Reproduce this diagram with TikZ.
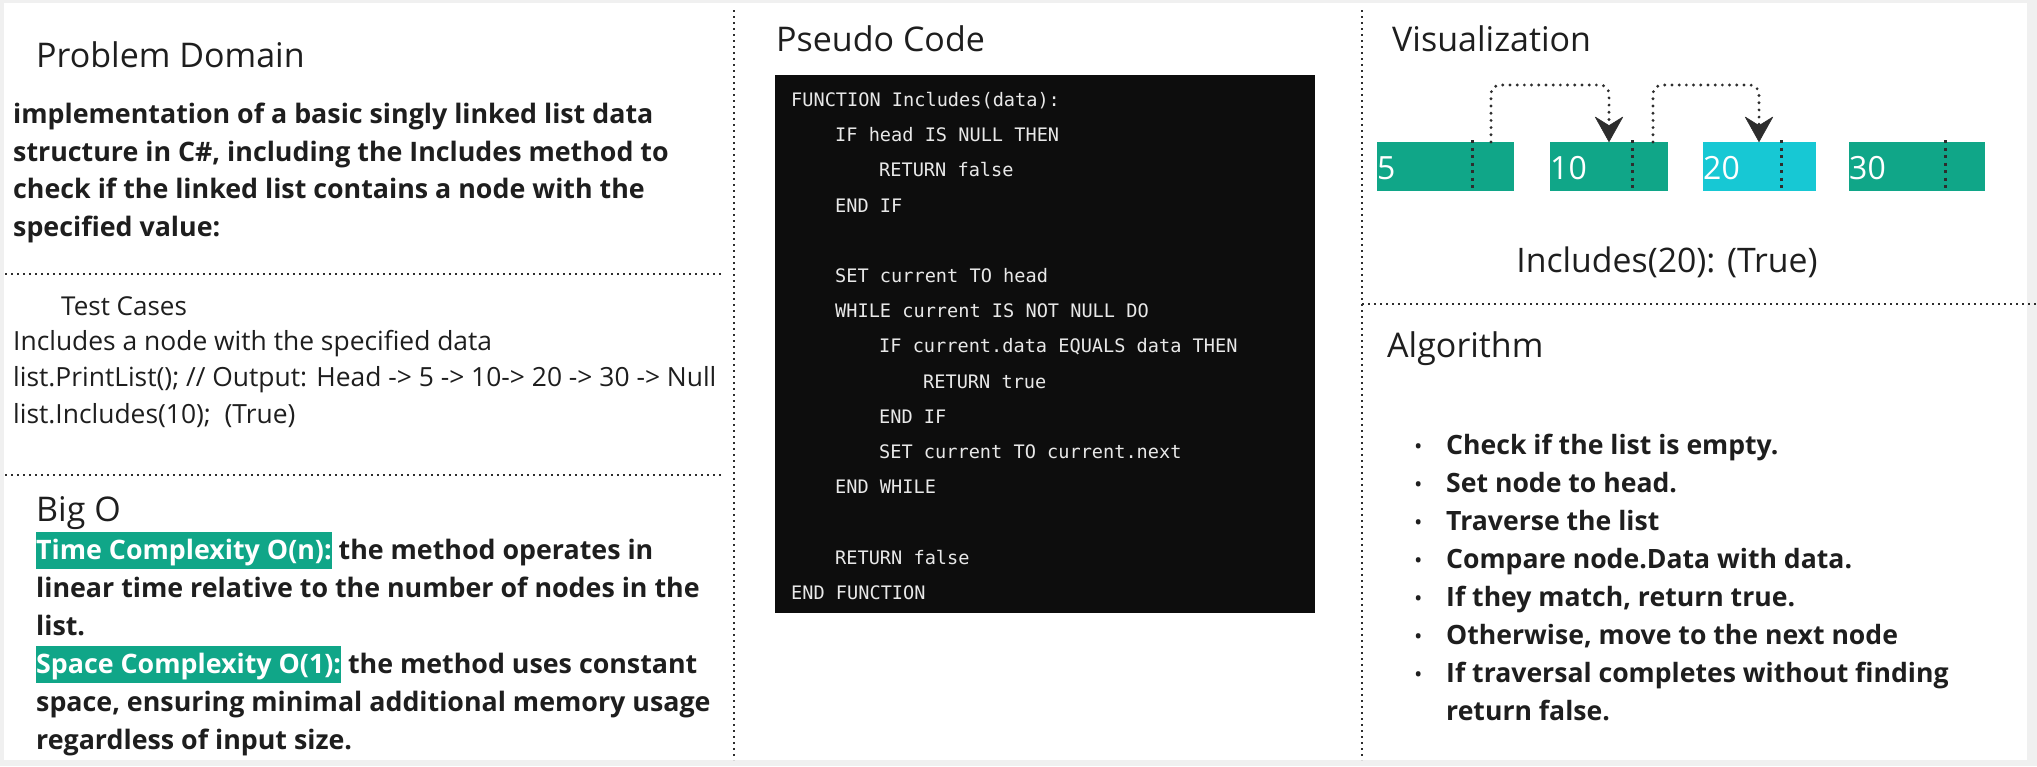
\documentclass[tikz,border=0pt]{standalone}
\usepackage{fontspec}
\setmainfont{Open Sans}
\newfontfamily\codefont{DejaVu Sans Mono}
\usetikzlibrary{arrows.meta}
\definecolor{teal1}{RGB}{16,166,136}
\definecolor{cyan1}{RGB}{23,200,212}
\definecolor{dotc}{RGB}{45,45,45}
\definecolor{frame}{RGB}{240,240,240}
\definecolor{codebg}{RGB}{13,13,13}
\definecolor{codefg}{RGB}{232,232,232}
\definecolor{txt}{RGB}{30,30,30}
\tikzset{
  x=1pt,y=-1pt,
  divline/.style={draw=dotc,line width=2.4pt,dash pattern=on 2.4pt off 3.6pt},
  title/.style={anchor=west,inner sep=0pt,text=txt,font=\fontsize{34}{40}\selectfont},
  bodybold/.style={anchor=north west,inner sep=0pt,align=left,text=txt,font=\fontsize{26.8}{37.5}\selectfont\bfseries},
  bodyreg/.style={anchor=north west,inner sep=0pt,align=left,text=txt,font=\fontsize{26.4}{36.5}\selectfont},
  codetxt/.style={anchor=north west,inner sep=0pt,align=left,text=codefg,font=\fontsize{18.6}{35.2}\selectfont\codefont},
  llbox/.style={minimum width=#1,minimum height=49pt,inner sep=0pt,anchor=north west},
  numtxt/.style={anchor=west,inner sep=0pt,text=white,font=\fontsize{32}{36}\selectfont},
  boxdiv/.style={draw=dotc,line width=3pt,dash pattern=on 3pt off 4.5pt},
  linkarrow/.style={draw=dotc,line width=3.2pt,line cap=round,dash pattern=on 0pt off 7.2pt,rounded corners=9pt,
     -{Stealth[width=29pt,length=26pt,inset=9pt,fill=dotc,line width=0.5pt,round]}},
}
\newcommand{\hl}[1]{{\setlength{\fboxsep}{0pt}\colorbox{teal1}{\rule[-10pt]{0pt}{37pt}\textcolor{white}{#1}}}}
\newcommand{\blt}{\makebox[36pt][l]{\hspace*{5pt}\raisebox{2pt}{\fontsize{17}{17}\selectfont\textbullet}}}
\begin{document}
\begin{tikzpicture}
\useasboundingbox (0,0) rectangle (2037,766);
\fill[frame] (0,0) rectangle (2037,766);
\fill[white] (4,3) rectangle (2027,760);

% dividers
\draw[divline] (734,10) -- (734,760);
\draw[divline] (1362,10) -- (1362,760);
\draw[divline] (5,274) -- (722,274);
\draw[divline] (5,475) -- (722,475);
\draw[divline] (1362,304) -- (2037,304);

% Problem domain
\node[title] (pdt) at (36,55) {Problem Domain};
\node[bodybold] (pdb) at (13,103) {implementation of a basic singly linked list data\\
structure in C\#, including the Includes method to\\
check if the linked list contains a node with the\\
specified value:};

% Test cases
\node[title,font=\fontsize{26}{30}\selectfont] (tct) at (61,306) {Test Cases};
\node[bodyreg] (tcb) at (13,330) {Includes a node with the specified data\\
list.PrintList(); // Output: Head -> 5 -> 10-> 20 -> 30 -> Null\\
list.Includes(10);~ (True)};

% Big O
\node[title] (bot) at (36,513) {Big O};
\node[bodybold,font=\fontsize{26.8}{38}\selectfont\bfseries] (bob) at (36,532) {\hl{Time Complexity O(n):} the method operates in\\
linear time relative to the number of nodes in the\\
list.\\
\hl{Space Complexity O(1):} the method uses constant\\
space, ensuring minimal additional memory usage\\
regardless of input size.};

% Pseudo code
\node[title] (pct) at (776,39) {Pseudo Code};
\node[fill=codebg,minimum width=540pt,minimum height=538pt,inner sep=0pt,anchor=north west] (cbox) at (775,75) {};
\node[codetxt] (code) at (791,92) {FUNCTION Includes(data):\\
\hspace*{44pt}IF head IS NULL THEN\\
\hspace*{88pt}RETURN false\\
\hspace*{44pt}END IF\\
\mbox{}\\
\hspace*{44pt}SET current TO head\\
\hspace*{44pt}WHILE current IS NOT NULL DO\\
\hspace*{88pt}IF current.data EQUALS data THEN\\
\hspace*{132pt}RETURN true\\
\hspace*{88pt}END IF\\
\hspace*{88pt}SET current TO current.next\\
\hspace*{44pt}END WHILE\\
\mbox{}\\
\hspace*{44pt}RETURN false\\
END FUNCTION};

% Visualization
\node[title] (vt) at (1392,39) {Visualization};
\node[llbox=137pt,fill=teal1] (n1) at (1377,142) {};
\node[llbox=118pt,fill=teal1] (n2) at (1550,142) {};
\node[llbox=113pt,fill=cyan1] (n3) at (1703,142) {};
\node[llbox=136pt,fill=teal1] (n4) at (1849,142) {};
\node[numtxt] (t1) at (1377,168) {5};
\node[numtxt] (t2) at (1550,168) {10};
\node[numtxt] (t3) at (1703,168) {20};
\node[numtxt] (t4) at (1849,168) {30};
\draw[boxdiv] (1472,140) -- (1472,191);
\draw[boxdiv] (1632,140) -- (1632,191);
\draw[boxdiv] (1781,140) -- (1781,191);
\draw[boxdiv] (1945,140) -- (1945,191);
\coordinate (s1) at (1491,142);
\coordinate (e1) at (1609,142);
\coordinate (s2) at (1653,142);
\coordinate (e2) at (1759,142);
\draw[linkarrow] (s1) -- (1491,85) -- (1609,85) -- (e1);
\draw[linkarrow] (s2) -- (1653,85) -- (1759,85) -- (e2);
\node[anchor=center,inner sep=0pt,text=txt,font=\fontsize{33.8}{38}\selectfont] (res) at (1667,262) {Includes(20): (True)};

% Algorithm
\node[title] (at) at (1387,349) {Algorithm};
\node[bodybold,font=\fontsize{26.6}{38}\selectfont\bfseries] (alg) at (1410,434) {%
\blt Check if the list is empty.\\
\blt Set node to head.\\
\blt Traverse the list\\
\blt Compare node.Data with data.\\
\blt If they match, return true.\\
\blt Otherwise, move to the next node\\
\blt If traversal completes without finding\\
\hspace*{36pt}return false.};
\end{tikzpicture}
\end{document}
